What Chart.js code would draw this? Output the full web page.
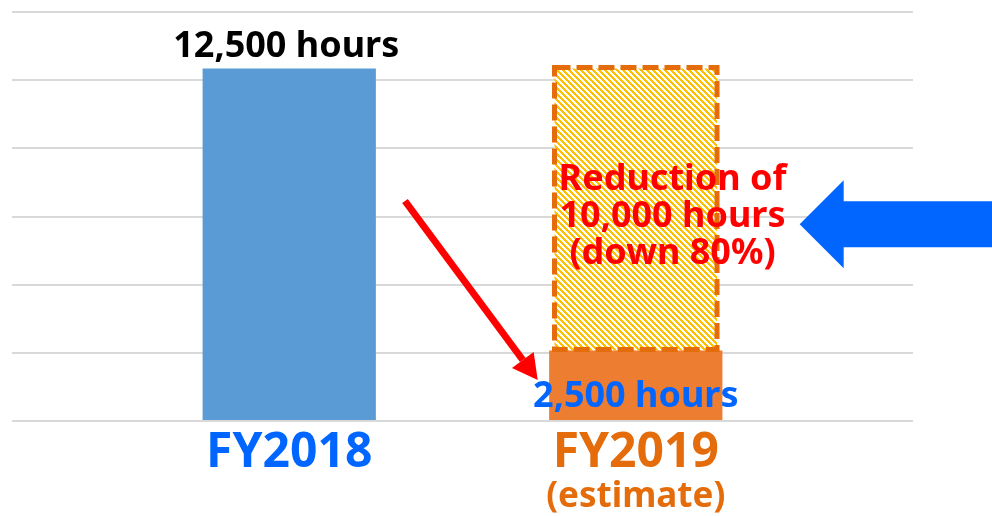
<!DOCTYPE html>
<html lang="en">
<head>
<meta charset="UTF-8">
<title>Working hours reduction</title>
<script src="https://cdn.jsdelivr.net/npm/chart.js"></script>
<style>
  html, body { margin: 0; padding: 0; background: #fff; }
  #wrap { width: 992px; height: 516px; position: relative; }
</style>
</head>
<body>
<div id="wrap"><canvas id="hoursChart"></canvas></div>
<script>
  // Chart data
  const categories = ['FY2018', 'FY2019'];
  const subLabels = ['', '(estimate)'];
  const hours = [12500, 2500];
  const reduction = [0, 10000];
  const labelColors = ['#0066FF', '#E46C0A'];

  const FONT = '"Noto Sans", "DejaVu Sans", sans-serif';

  const canvas = document.getElementById('hoursChart');
  const ctx = canvas.getContext('2d');

  // yellow diagonal hatch for the "reduced" part
  function makeHatch() {
    const n = 6;
    const c = document.createElement('canvas');
    c.width = c.height = n;
    const g = c.getContext('2d');
    g.fillStyle = '#fff';
    g.fillRect(0, 0, n, n);
    g.fillStyle = '#FFC000';
    for (let r = 0; r < n; r++) {
      for (let k = 0; k < 3; k++) g.fillRect((r + k) % n, r, 1, 1);
    }
    return ctx.createPattern(c, 'repeat');
  }

  function arrowLine(c, x1, y1, x2, y2, color, width, headLen, headW) {
    const ang = Math.atan2(y2 - y1, x2 - x1);
    const bx = x2 - Math.cos(ang) * headLen;
    const by = y2 - Math.sin(ang) * headLen;
    c.save();
    c.strokeStyle = color;
    c.fillStyle = color;
    c.lineWidth = width;
    c.beginPath();
    c.moveTo(x1, y1);
    c.lineTo(bx, by);
    c.stroke();
    c.beginPath();
    c.moveTo(x2, y2);
    c.lineTo(bx + Math.sin(ang) * headW / 2, by - Math.cos(ang) * headW / 2);
    c.lineTo(bx - Math.sin(ang) * headW / 2, by + Math.cos(ang) * headW / 2);
    c.closePath();
    c.fill();
    c.restore();
  }

  const overlay = {
    id: 'overlay',
    afterDatasetsDraw(chart) {
      const c = chart.ctx;
      const { x, y } = chart.scales;

      // dashed outline round the reduced part
      chart.getDatasetMeta(1).data.forEach((bar, i) => {
        if (!reduction[i]) return;
        const p = bar.getProps(['x', 'y', 'base', 'width'], true);
        c.save();
        c.strokeStyle = '#E46C0A';
        c.lineWidth = 5;
        c.setLineDash([16, 6]);
        c.strokeRect(p.x - p.width / 2, p.y - 1, p.width, p.base - p.y);
        c.restore();
      });

      c.save();
      c.textAlign = 'center';
      c.textBaseline = 'alphabetic';

      // value labels
      const bars = chart.getDatasetMeta(0).data;
      const base = y.getPixelForValue(0);
      c.font = 'bold 36px ' + FONT;
      c.fillStyle = '#000';
      c.fillText(hours[0].toLocaleString('en-US') + ' hours', bars[0].x - 3, bars[0].y - 11);
      c.fillStyle = '#0066FF';
      c.fillText(hours[1].toLocaleString('en-US') + ' hours', bars[1].x, base - 14);

      // reduction note
      const pct = Math.round(reduction[1] / hours[0] * 100);
      const noteLines = ['Reduction of', reduction[1].toLocaleString('en-US') + ' hours', '(down ' + pct + '%)'];
      const nx = x.getPixelForValue(2.106);
      const ny = y.getPixelForValue(6870);
      c.fillStyle = '#FF0000';
      noteLines.forEach((t, k) => c.fillText(t, nx, ny + (k - 1) * 37));

      // category labels
      categories.forEach((cat, i) => {
        const cx = x.getPixelForValue(i + 1);
        c.fillStyle = labelColors[i];
        c.font = 'bold 48px ' + FONT;
        c.fillText(cat, cx, base + 46);
        if (subLabels[i]) {
          c.font = 'bold 35px ' + FONT;
          c.fillText(subLabels[i], cx, base + 86);
        }
      });
      c.restore();

      // red arrow: from FY2018 down to FY2019
      arrowLine(c, x.getPixelForValue(1.334), y.getPixelForValue(7800),
        x.getPixelForValue(1.717), y.getPixelForValue(1450), '#FF0000', 7, 25, 27);

      // big blue block arrow pointing at the note
      const tx = x.getPixelForValue(2.473);
      const ty = y.getPixelForValue(6976);
      c.save();
      c.fillStyle = '#0066FF';
      c.beginPath();
      c.moveTo(tx, ty);
      c.lineTo(tx + 44, ty - 44);
      c.lineTo(tx + 44, ty - 23);
      c.lineTo(chart.width, ty - 23);
      c.lineTo(chart.width, ty + 23);
      c.lineTo(tx + 44, ty + 23);
      c.lineTo(tx + 44, ty + 44);
      c.closePath();
      c.fill();
      c.restore();
    }
  };

  const hoursChart = new Chart(ctx, {
    type: 'bar',
    data: {
      datasets: [{
        label: 'Hours',
        data: hours.map((v, i) => ({ x: i + 1, y: v })),
        backgroundColor: ['#5B9BD5', '#ED7D31'],
        barPercentage: 0.5,
        categoryPercentage: 1
      }, {
        label: 'Reduction',
        data: reduction.map((v, i) => ({ x: i + 1, y: v })),
        backgroundColor: makeHatch(),
        barPercentage: 0.469,
        categoryPercentage: 1
      }]
    },
    options: {
      responsive: true,
      maintainAspectRatio: false,
      animation: false,
      layout: { padding: { left: 12, right: 79, top: 12, bottom: 95 } },
      plugins: {
        legend: { display: false },
        tooltip: { enabled: false }
      },
      scales: {
        x: {
          type: 'linear',
          display: false,
          stacked: true,
          offset: false,
          min: 0.2,
          max: 2.8,
          afterBuildTicks: s => { s.ticks = categories.map((_, i) => ({ value: i + 1 })); },
          grid: { display: false }
        },
        y: {
          stacked: true,
          min: 0,
          max: 14500,
          ticks: { display: false, stepSize: 14500 / 6 },
          border: { display: false },
          grid: { color: '#D9D9D9', lineWidth: 2, drawTicks: false },
          afterFit: s => { s.width = 0; }
        }
      }
    },
    plugins: [overlay]
  });
</script>
</body>
</html>
